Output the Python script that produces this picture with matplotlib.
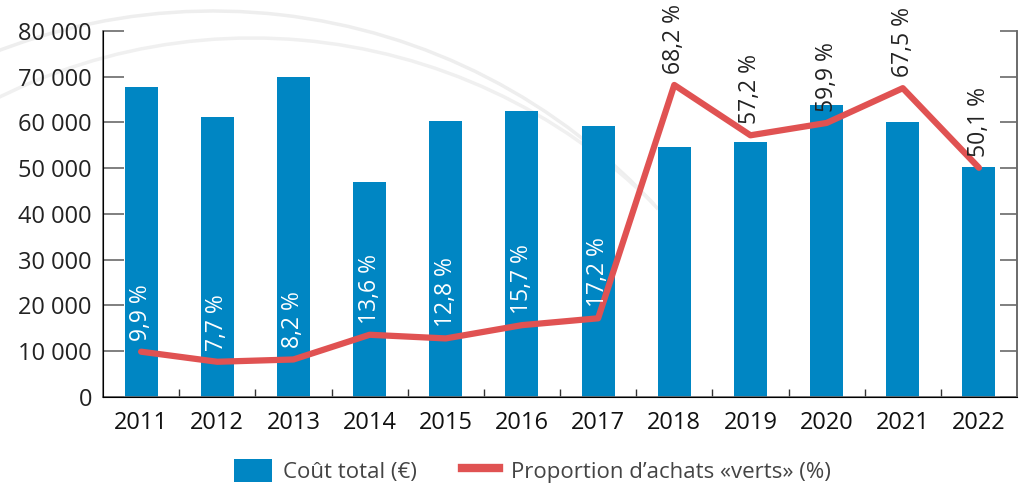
import matplotlib
matplotlib.use("Agg")
import matplotlib.pyplot as plt
from matplotlib.patches import Patch, Arc
from matplotlib.lines import Line2D
from matplotlib.ticker import FuncFormatter, MultipleLocator

plt.rcParams["font.family"] = ["Open Sans", "DejaVu Sans"]

years = ["2011", "2012", "2013", "2014", "2015", "2016",
         "2017", "2018", "2019", "2020", "2021", "2022"]
cout_total = [67800, 61200, 70000, 47000, 60300, 62500,
              59300, 54700, 55800, 63800, 60000, 50300]
part_verts = [9.9, 7.7, 8.2, 13.6, 12.8, 15.7,
              17.2, 68.2, 57.2, 59.9, 67.5, 50.1]
pct_labels = ["9,9 %", "7,7 %", "8,2 %", "13,6 %", "12,8 %", "15,7 %",
              "17,2 %", "68,2 %", "57,2 %", "59,9 %", "67,5 %", "50,1 %"]

blue = "#0086c3"
red = "#e05252"
axis_grey = "#6a6a6a"

fig = plt.figure(figsize=(10.24, 4.88), dpi=100)

# faint decorative arcs behind the chart (pixel coordinates)
bg = fig.add_axes([0, 0, 1, 1], zorder=0)
bg.set_xlim(0, 1024)
bg.set_ylim(488, 0)
bg.axis("off")
bg.add_patch(Arc((213, 610), 1198, 1198, theta1=235, theta2=318,
                 color="#eeeeee", lw=2.5))
bg.add_patch(Arc((252, 607), 1138, 1138, theta1=235, theta2=315,
                 color="#f0f0f0", lw=2.5))

ax = fig.add_axes([0.1006, 0.1865, 0.8926, 0.75], zorder=1)
ax.patch.set_alpha(0)
x = list(range(len(years)))

ax.bar(x, cout_total, width=0.434, color=blue, zorder=2)

# green-purchase share drawn on the same scale (1 % = 1 000)
line_y = [p * 1000 for p in part_verts]
ax.plot(x, line_y, color=red, lw=4.5, solid_joinstyle="round",
        solid_capstyle="round", zorder=3)

for i, (xi, yi, lab) in enumerate(zip(x, line_y, pct_labels)):
    col = "white" if i < 7 else "#222222"
    ax.annotate(lab, (xi, yi), xytext=(0, 8), textcoords="offset points",
                rotation=90, ha="center", va="bottom", color=col,
                fontsize=16.5, zorder=4)

ax.set_xlim(-0.5, len(years) - 0.5)
ax.set_ylim(0, 80000)
ax.yaxis.set_major_locator(MultipleLocator(10000))
ax.yaxis.set_major_formatter(
    FuncFormatter(lambda v, _: f"{int(v):,}".replace(",", " ")))

ax.set_xticks(x)
ax.set_xticklabels(years)
ax.set_xticks([i + 0.5 for i in x[:-1]], minor=True)
ax.tick_params(axis="x", which="major", length=0, pad=10,
               labelsize=17, labelcolor="#111111")
ax.tick_params(axis="x", which="minor", direction="in", length=6,
               width=1, color="#333333")
ax.tick_params(axis="y", direction="in", length=15, width=1.2,
               color=axis_grey, labelsize=17, labelcolor="#222222", pad=8)

ax.spines["top"].set_visible(False)
for s in ["left", "bottom", "right"]:
    ax.spines[s].set_color(axis_grey)
    ax.spines[s].set_linewidth(1.2)

ax2 = ax.twinx()
ax2.set_ylim(0, 80000)
ax2.yaxis.set_major_locator(MultipleLocator(10000))
ax2.tick_params(axis="y", direction="in", length=12, width=1.2,
                color=axis_grey, labelright=False)
ax2.spines["top"].set_visible(False)
ax2.spines["right"].set_color(axis_grey)
ax2.spines["right"].set_linewidth(1.2)

handles = [Patch(facecolor=blue, edgecolor="none"),
           Line2D([0], [0], color=red, lw=6)]
fig.legend(handles, ["Coût total (€)", "Proportion d’achats «verts» (%)"],
           loc="center", bbox_to_anchor=(0.52, 0.035), ncol=2, frameon=False,
           fontsize=16, labelcolor="#444444", handlelength=1.7,
           handleheight=1.2, columnspacing=2.0, handletextpad=0.5)

fig.savefig("out.png", dpi=100)
